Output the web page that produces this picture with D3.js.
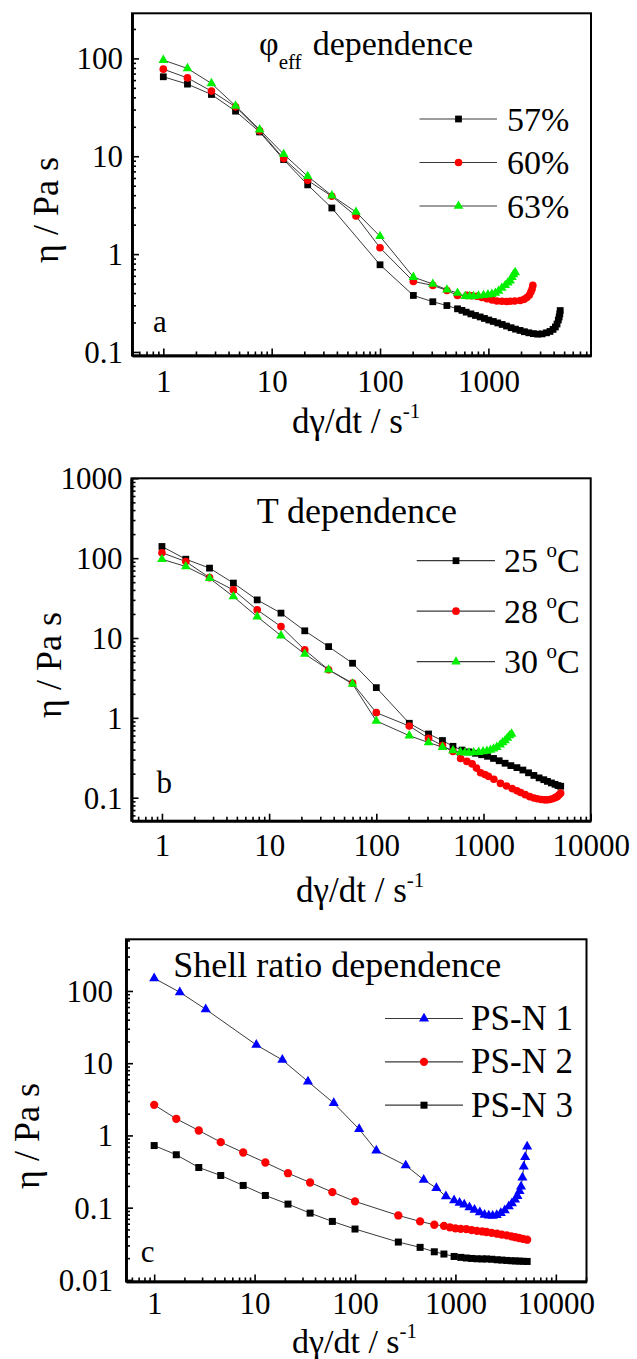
<!DOCTYPE html>
<html>
<head>
<meta charset="utf-8">
<script src="https://cdn.jsdelivr.net/npm/d3@7"></script>
<style>
  body { margin: 0; background: #fff; }
  svg { display: block; }
  text { font-family: "Liberation Serif", "Times New Roman", serif; fill: #000; }
</style>
</head>
<body>
<svg id="fig" width="637" height="1359"></svg>
<script>
// ---------- (a) effective volume fraction ----------
const a57X = [1, 1.67, 2.78, 4.64, 7.74, 12.9, 21.5, 35.9, 100, 203, 307, 414, 519, 570, 624, 690, 760, 840, 920, 1010, 1110, 1220, 1340, 1470, 1620, 1780, 1960, 2150, 2360, 2600, 2850, 3130, 3440, 3700, 3950, 4150, 4300, 4420, 4500, 4560, 4600];
const a57Y = [64.9, 54.6, 42.8, 28.9, 17.7, 9.25, 5.1, 2.96, 0.778, 0.378, 0.326, 0.298, 0.276, 0.266, 0.255, 0.245, 0.236, 0.228, 0.220, 0.212, 0.205, 0.198, 0.191, 0.184, 0.177, 0.171, 0.166, 0.161, 0.157, 0.154, 0.152, 0.153, 0.157, 0.162, 0.170, 0.180, 0.193, 0.212, 0.228, 0.245, 0.265];
const a60X = [1, 1.67, 2.78, 4.64, 7.74, 12.9, 21.5, 35.9, 60, 100, 203, 307, 414, 519, 633, 700, 783, 870, 968, 1080, 1197, 1330, 1470, 1589, 1750, 1966, 2140, 2265, 2380, 2466, 2530, 2572];
const a60Y = [77.6, 63.2, 46.3, 32.0, 18.2, 9.46, 5.67, 3.9, 2.45, 1.16, 0.526, 0.479, 0.425, 0.378, 0.378, 0.375, 0.371, 0.36, 0.35, 0.34, 0.332, 0.33, 0.328, 0.33, 0.332, 0.336, 0.345, 0.36, 0.38, 0.41, 0.44, 0.479];
const a63X = [1, 1.67, 2.78, 4.64, 7.74, 12.9, 21.5, 35.9, 60, 100, 203, 307, 414, 519, 611, 670, 729, 810, 902, 990, 1077, 1160, 1241, 1330, 1430, 1510, 1590, 1650, 1706, 1770];
const a63Y = [96, 79, 55.5, 32.7, 18.7, 10.5, 6.24, 3.96, 2.69, 1.52, 0.582, 0.495, 0.433, 0.40, 0.371, 0.37, 0.371, 0.375, 0.38, 0.385, 0.39, 0.40, 0.42, 0.45, 0.48, 0.51, 0.535, 0.58, 0.62, 0.65];
const aLegend = ["57%", "60%", "63%"];

// ---------- (b) temperature ----------
const b25X = [1, 1.67, 2.78, 4.64, 7.74, 12.9, 21.5, 35.9, 60, 100, 203, 307, 414, 519, 631, 730, 840, 960, 1090, 1240, 1400, 1590, 1800, 2050, 2330, 2630, 2950, 3300, 3650, 3950, 4300, 4650, 4950, 5250];
const b25Y = [140, 97, 75, 48.7, 30, 20.5, 12.3, 7.8, 4.83, 2.39, 0.855, 0.628, 0.52, 0.44, 0.395, 0.375, 0.36, 0.345, 0.33, 0.31, 0.29, 0.27, 0.252, 0.238, 0.222, 0.205, 0.19, 0.177, 0.168, 0.16, 0.153, 0.147, 0.142, 0.139];
const b28X = [1, 1.67, 2.78, 4.64, 7.74, 12.9, 21.5, 35.9, 60, 100, 203, 307, 414, 519, 612, 700, 783, 860, 940, 1030, 1110, 1250, 1440, 1640, 1850, 2050, 2220, 2450, 2700, 2950, 3170, 3450, 3700, 3930, 4150, 4400, 4650, 4870, 5050, 5240];
const b28Y = [117, 90.6, 57, 40, 22.5, 13.9, 7.1, 4.0, 2.72, 1.16, 0.79, 0.555, 0.45, 0.38, 0.31, 0.285, 0.265, 0.235, 0.205, 0.195, 0.185, 0.17, 0.151, 0.14, 0.13, 0.122, 0.116, 0.109, 0.103, 0.099, 0.097, 0.095, 0.094, 0.094, 0.095, 0.097, 0.1, 0.103, 0.108, 0.114];
const b30X = [1, 1.67, 2.78, 4.64, 7.74, 12.9, 21.5, 35.9, 60, 100, 203, 307, 414, 519, 611, 670, 729, 810, 902, 990, 1077, 1160, 1241, 1330, 1430, 1510, 1590, 1670, 1750, 1830];
const b30Y = [97, 78.5, 56, 33, 18.5, 10.7, 6.3, 4.0, 2.66, 0.914, 0.598, 0.49, 0.43, 0.39, 0.37, 0.365, 0.365, 0.368, 0.372, 0.378, 0.385, 0.395, 0.41, 0.43, 0.46, 0.49, 0.52, 0.56, 0.6, 0.63];
const bLegend = ["25", "28", "30"];

// ---------- (c) shell ratio ----------
const c1X = [1, 1.8, 3.26, 10.4, 18.9, 34, 61.4, 110, 163, 320, 483, 646, 804, 970, 1100, 1224, 1380, 1550, 1750, 1950, 2150, 2350, 2580, 2830, 3100, 3400, 3650, 3920, 4150, 4350, 4500, 4650, 4790, 4950, 5180];
const c1Y = [150, 96, 55.8, 17.9, 11.1, 5.57, 2.8, 1.22, 0.618, 0.384, 0.243, 0.187, 0.143, 0.126, 0.117, 0.11, 0.101, 0.0935, 0.086, 0.0798, 0.0775, 0.0773, 0.079, 0.084, 0.092, 0.104, 0.115, 0.129, 0.145, 0.17, 0.196, 0.26, 0.371, 0.5, 0.703];
const c2X = [1, 1.66, 2.78, 4.6, 7.7, 12.8, 21.5, 35.7, 59.5, 100, 270, 445, 616, 768, 880, 1000, 1130, 1282, 1450, 1640, 1850, 2040, 2300, 2600, 2900, 3250, 3600, 3950, 4300, 4700, 5180];
const c2Y = [2.65, 1.70, 1.17, 0.807, 0.58, 0.422, 0.30, 0.223, 0.164, 0.122, 0.078, 0.0645, 0.058, 0.056, 0.0535, 0.0518, 0.0508, 0.0506, 0.049, 0.0478, 0.0468, 0.046, 0.0448, 0.0436, 0.0424, 0.0413, 0.040, 0.039, 0.038, 0.037, 0.036];
const c3X = [1, 1.66, 2.78, 4.6, 7.7, 12.8, 21.5, 35.7, 59.5, 100, 270, 445, 616, 768, 970, 1130, 1282, 1450, 1640, 1850, 2040, 2300, 2600, 2900, 3250, 3600, 3950, 4300, 4700, 5180];
const c3Y = [0.724, 0.54, 0.36, 0.279, 0.203, 0.1475, 0.112, 0.084, 0.0645, 0.0506, 0.0334, 0.0282, 0.0245, 0.0228, 0.0211, 0.0205, 0.0201, 0.0198, 0.0196, 0.0195, 0.0195, 0.0193, 0.019, 0.0188, 0.0186, 0.0184, 0.0183, 0.0182, 0.0181, 0.018];
const cLegend = ["PS-N 1", "PS-N 2", "PS-N 3"];

const zip = (xs, ys) => xs.map((v, i) => [v, ys[i]]);
const svg = d3.select("#fig");
const SERIF = "'Liberation Serif', 'Times New Roman', serif";

const MARK = {
  square:   { type: d3.symbolSquare,   fill: "#000000" },
  circle:   { type: d3.symbolCircle,   fill: "#ff0000" },
  triangle: { type: d3.symbolTriangle, fill: "#00f000" },
  blueTri:  { type: d3.symbolTriangle, fill: "#0000ff" }
};

function logTicks(domain) {
  const lo = Math.floor(Math.log10(domain[0])), hi = Math.ceil(Math.log10(domain[1]));
  const major = [], minor = [];
  for (let d = lo; d <= hi; d++) {
    for (let k = 1; k <= 9; k++) {
      const v = +(k * Math.pow(10, d)).toPrecision(6);
      if (v < domain[0] * 0.999 || v > domain[1] * 1.001) continue;
      (k === 1 ? major : minor).push(v);
    }
  }
  return { major, minor };
}

const fmt = d => d >= 1 ? d3.format("d")(d) : String(+d.toPrecision(1));

function drawPanel(p) {
  const x = d3.scaleLog().domain(p.xDomain).range([p.left, p.right]);
  const y = d3.scaleLog().domain(p.yDomain).range([p.bottom, p.top]);
  const g = svg.append("g").attr("font-family", SERIF);

  // series: connecting line then markers
  p.series.forEach(s => {
    const pts = zip(s.x, s.y);
    g.append("path")
      .attr("d", d3.line().x(d => x(d[0])).y(d => y(d[1]))(pts))
      .attr("fill", "none").attr("stroke", "#3a3a3a").attr("stroke-width", 1);
    const m = MARK[s.mark];
    g.selectAll(null).data(pts).enter().append("path")
      .attr("transform", d => `translate(${x(d[0])},${y(d[1])})`)
      .attr("d", d3.symbol().type(m.type).size(s.size))
      .attr("fill", m.fill);
  });

  // frame
  g.append("rect")
    .attr("x", p.left).attr("y", p.top)
    .attr("width", p.right - p.left).attr("height", p.bottom - p.top)
    .attr("fill", "none").attr("stroke", "#000").attr("stroke-width", 2);

  const xt = logTicks(p.xDomain), yt = logTicks(p.yDomain);

  // bottom axis, ticks pointing inward
  const bx = g.append("g").attr("transform", `translate(0,${p.bottom})`);
  bx.append("g").call(d3.axisBottom(x).tickValues(xt.minor).tickSizeInner(-4).tickSizeOuter(0).tickFormat(""));
  bx.append("g").call(d3.axisBottom(x).tickValues(xt.major).tickSizeInner(-7).tickSizeOuter(0).tickFormat(fmt));
  bx.selectAll("g").attr("font-family", SERIF);
  bx.selectAll("text").attr("y", p.tickY).attr("dy", 0).attr("font-size", 31);

  // left axis, ticks pointing inward
  const ly = g.append("g").attr("transform", `translate(${p.left},0)`);
  ly.append("g").call(d3.axisLeft(y).tickValues(yt.minor).tickSizeInner(-4).tickSizeOuter(0).tickFormat(""));
  ly.append("g").call(d3.axisLeft(y).tickValues(yt.major).tickSizeInner(-7).tickSizeOuter(0).tickPadding(p.yPad).tickFormat(fmt));
  ly.selectAll("g").attr("font-family", SERIF);
  ly.selectAll("text").attr("dy", "0.34em").attr("font-size", 31);

  g.selectAll(".tick line").attr("stroke", "#000").attr("stroke-width", 1.6);
  g.selectAll(".domain").attr("stroke", "#000").attr("stroke-width", 2.6);

  // axis titles
  const xt1 = g.append("text").attr("x", p.xTitleX).attr("y", p.xTitleY).attr("font-size", p.xTitleSize);
  xt1.append("tspan").text("dγ/dt / s");
  xt1.append("tspan").attr("font-size", 21).attr("dy", -15).text("-1");

  g.append("text")
    .attr("transform", `translate(${p.yTitleX},${p.yTitleY}) rotate(-90)`)
    .attr("text-anchor", "middle").attr("font-size", 36)
    .text("η / Pa s");

  // panel letter
  g.append("text").attr("x", p.letterX).attr("y", p.letterY).attr("font-size", 31).text(p.letter);

  // panel heading
  p.heading(g);

  // legend
  p.series.forEach((s, i) => {
    const ry = p.legend.y0 + i * p.legend.dy;
    g.append("line").attr("x1", p.legend.x1).attr("x2", p.legend.x2)
      .attr("y1", ry).attr("y2", ry).attr("stroke", "#3a3a3a").attr("stroke-width", 1.2);
    const m = MARK[s.mark];
    g.append("path").attr("transform", `translate(${p.legend.mx},${ry})`)
      .attr("d", d3.symbol().type(m.type).size(s.size)).attr("fill", m.fill);
    p.legend.label(g.append("text").attr("x", p.legend.tx).attr("y", ry + 11.5).attr("font-size", 34), p.legend.names[i]);
  });
}

// (a)
drawPanel({
  left: 132, right: 591, top: 13.3, bottom: 355.5,
  xDomain: [0.514, 8850], yDomain: [0.092, 289], yPad: 9, tickY: 36,
  xTitleX: 292, xTitleY: 433, xTitleSize: 35, yTitleX: 58, yTitleY: 210,
  letter: "a", letterX: 153, letterY: 332,
  series: [
    { x: a57X, y: a57Y, mark: "square", size: 46 },
    { x: a60X, y: a60Y, mark: "circle", size: 46 },
    { x: a63X, y: a63Y, mark: "triangle", size: 40 }
  ],
  heading: g => {
    const t = g.append("text").attr("x", 259).attr("y", 55).attr("font-size", 34);
    t.append("tspan").text("φ");
    t.append("tspan").attr("font-size", 21).attr("dy", 14).text("eff");
    t.append("tspan").attr("x", 312.7).attr("dy", -14).text("dependence");
  },
  legend: { y0: 119, dy: 43.5, x1: 419.5, x2: 497, mx: 458.5, tx: 507, names: aLegend,
            label: (t, s) => t.text(s) }
});

// (b)
drawPanel({
  left: 131.5, right: 590.7, top: 478.3, bottom: 820.7,
  xDomain: [0.52, 10000], yDomain: [0.0515, 1000], yPad: 9, tickY: 35,
  xTitleX: 296, xTitleY: 902, xTitleSize: 35, yTitleX: 61, yTitleY: 665,
  letter: "b", letterX: 156.5, letterY: 793,
  series: [
    { x: b25X, y: b25Y, mark: "square", size: 46 },
    { x: b28X, y: b28Y, mark: "circle", size: 46 },
    { x: b30X, y: b30Y, mark: "triangle", size: 40 }
  ],
  heading: g => {
    g.append("text").attr("x", 256.7).attr("y", 523.3).attr("font-size", 36).text("T dependence");
  },
  legend: { y0: 560.7, dy: 50.5, x1: 416.7, x2: 495, mx: 456, tx: 504, names: bLegend,
            label: (t, s) => {
              t.append("tspan").text(s + " ");
              t.append("tspan").attr("font-size", 21).attr("dy", -15).text("o");
              t.append("tspan").attr("dy", 15).text("C");
            } }
});

// (c)
drawPanel({
  left: 126, right: 586.5, top: 939.3, bottom: 1281.5,
  xDomain: [0.524, 20200], yDomain: [0.0095, 519], yPad: 13, tickY: 32,
  xTitleX: 292, xTitleY: 1353, xTitleSize: 34, yTitleX: 39, yTitleY: 1136,
  letter: "c", letterX: 140.7, letterY: 1261.7,
  series: [
    { x: c1X, y: c1Y, mark: "blueTri", size: 44 },
    { x: c2X, y: c2Y, mark: "circle", size: 54 },
    { x: c3X, y: c3Y, mark: "square", size: 49 }
  ],
  heading: g => {
    g.append("text").attr("x", 173.3).attr("y", 976.7).attr("font-size", 36).text("Shell ratio dependence");
  },
  legend: { y0: 1018.5, dy: 43.35, x1: 385, x2: 463, mx: 424, tx: 471, names: cLegend,
            label: (t, s) => t.attr("font-size", 35).text(s) }
});
</script>
</body>
</html>
